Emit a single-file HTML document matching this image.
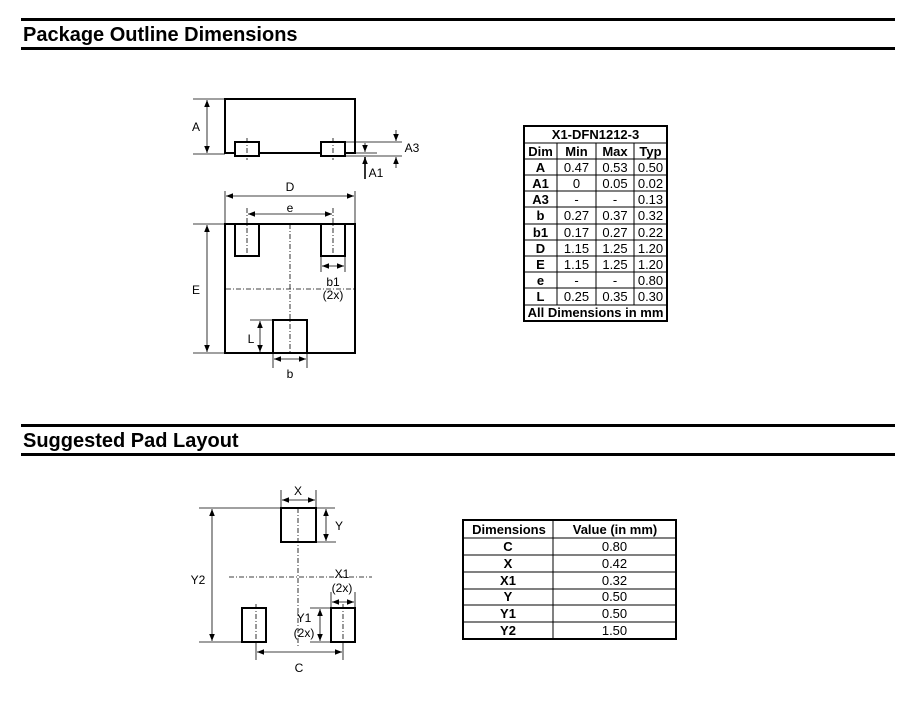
<!DOCTYPE html>
<html><head><meta charset="utf-8"><style>
html,body{margin:0;padding:0;background:#fff;}
svg{display:block;font-family:"Liberation Sans",Arial,sans-serif;}
</style></head><body>
<svg width="922" height="703" viewBox="0 0 922 703" xmlns="http://www.w3.org/2000/svg">
<defs>
<marker id="ar" viewBox="0 0 10 10" refX="10" refY="5" markerWidth="7" markerHeight="7" orient="auto-start-reverse" markerUnits="userSpaceOnUse"><path d="M0,1 L10,5 L0,9 z" fill="#000"/></marker>
</defs>
<rect x="21" y="18" width="874" height="3" fill="#000"/>
<rect x="21" y="47" width="874" height="3" fill="#000"/>
<text x="23" y="41" font-size="20" font-weight="bold">Package Outline Dimensions</text>
<rect x="21" y="424" width="874" height="3" fill="#000"/>
<rect x="21" y="453" width="874" height="3" fill="#000"/>
<text x="23" y="447" font-size="20" font-weight="bold">Suggested Pad Layout</text>

<g stroke="#000" fill="none">
<rect x="225" y="99" width="130" height="54" stroke-width="2"/>
<rect x="235" y="142" width="24" height="14" fill="#fff" stroke-width="2"/>
<rect x="321" y="142" width="24" height="14" fill="#fff" stroke-width="2"/>
<g stroke-width="0.8" stroke-dasharray="5,2,1,2"><line x1="247" y1="138" x2="247" y2="160"/><line x1="333" y1="138" x2="333" y2="160"/></g>
<g stroke-width="0.8">
<line x1="193" y1="99" x2="225" y2="99"/><line x1="193" y1="154" x2="225" y2="154"/>
<line x1="207" y1="100" x2="207" y2="153" marker-start="url(#ar)" marker-end="url(#ar)"/>
<line x1="345" y1="142" x2="402" y2="142"/><line x1="355" y1="153" x2="377" y2="153"/><line x1="345" y1="156" x2="402" y2="156"/>
<line x1="396" y1="130" x2="396" y2="141" marker-end="url(#ar)"/>
<line x1="396" y1="168" x2="396" y2="157" marker-end="url(#ar)"/>
<line x1="365" y1="143" x2="365" y2="152" marker-end="url(#ar)"/>
</g>
<line x1="365" y1="179" x2="365" y2="157" stroke-width="1.6" marker-end="url(#ar)"/>
<rect x="225" y="224" width="130" height="129" stroke-width="2"/>
<rect x="235" y="224" width="24" height="32" stroke-width="2"/>
<rect x="321" y="224" width="24" height="32" stroke-width="2"/>
<rect x="273" y="320" width="34" height="33" stroke-width="2"/>
<g stroke-width="0.8" stroke-dasharray="5,2,1,2">
<line x1="247" y1="208" x2="247" y2="258"/><line x1="333" y1="208" x2="333" y2="258"/>
<line x1="290" y1="224" x2="290" y2="353"/><line x1="226" y1="289" x2="355" y2="289"/>
</g>
<g stroke-width="0.8">
<line x1="225" y1="191" x2="225" y2="224"/><line x1="355" y1="191" x2="355" y2="224"/>
<line x1="226" y1="196" x2="354" y2="196" marker-start="url(#ar)" marker-end="url(#ar)"/>
<line x1="248" y1="214" x2="332" y2="214" marker-start="url(#ar)" marker-end="url(#ar)"/>
<line x1="193" y1="224" x2="225" y2="224"/><line x1="193" y1="353" x2="225" y2="353"/>
<line x1="207" y1="225" x2="207" y2="352" marker-start="url(#ar)" marker-end="url(#ar)"/>
<line x1="321" y1="256" x2="321" y2="272"/><line x1="345" y1="256" x2="345" y2="272"/>
<line x1="322" y1="266" x2="344" y2="266" marker-start="url(#ar)" marker-end="url(#ar)"/>
<line x1="250" y1="320" x2="273" y2="320"/>
<line x1="260" y1="321" x2="260" y2="352" marker-start="url(#ar)" marker-end="url(#ar)"/>
<line x1="273" y1="353" x2="273" y2="368"/><line x1="307" y1="353" x2="307" y2="368"/>
<line x1="274" y1="359" x2="306" y2="359" marker-start="url(#ar)" marker-end="url(#ar)"/>
</g>
<rect x="281" y="508" width="35" height="34" stroke-width="2"/>
<rect x="242" y="608" width="24" height="34" stroke-width="2"/>
<rect x="331" y="608" width="24" height="34" stroke-width="2"/>
<g stroke-width="0.8" stroke-dasharray="5,2,1,2">
<line x1="298" y1="508" x2="298" y2="648"/><line x1="229" y1="577" x2="372" y2="577"/>
<line x1="256" y1="604" x2="256" y2="642"/><line x1="343" y1="604" x2="343" y2="642"/>
</g>
<g stroke-width="0.8">
<line x1="199" y1="508" x2="335" y2="508"/><line x1="199" y1="642" x2="242" y2="642"/>
<line x1="212" y1="509" x2="212" y2="641" marker-start="url(#ar)" marker-end="url(#ar)"/>
<line x1="281" y1="490" x2="281" y2="508"/><line x1="316" y1="490" x2="316" y2="508"/>
<line x1="282" y1="500" x2="315" y2="500" marker-start="url(#ar)" marker-end="url(#ar)"/>
<line x1="316" y1="542" x2="336" y2="542"/>
<line x1="326" y1="509" x2="326" y2="541" marker-start="url(#ar)" marker-end="url(#ar)"/>
<line x1="331" y1="592" x2="331" y2="608"/><line x1="355" y1="592" x2="355" y2="608"/>
<line x1="332" y1="602" x2="354" y2="602" marker-start="url(#ar)" marker-end="url(#ar)"/>
<line x1="310" y1="608" x2="331" y2="608"/><line x1="310" y1="642" x2="331" y2="642"/>
<line x1="320" y1="609" x2="320" y2="641" marker-start="url(#ar)" marker-end="url(#ar)"/>
<line x1="256" y1="642" x2="256" y2="660"/><line x1="343" y1="642" x2="343" y2="660"/>
<line x1="257" y1="652" x2="342" y2="652" marker-start="url(#ar)" marker-end="url(#ar)"/>
</g>
</g>
<g font-size="12" text-anchor="middle" fill="#000">
<text x="196" y="131">A</text><text x="412" y="152">A3</text><text x="376" y="177">A1</text>
<text x="290" y="191">D</text><text x="290" y="212">e</text><text x="196" y="294">E</text>
<text x="333" y="286">b1</text><text x="333" y="299">(2x)</text>
<text x="251" y="343">L</text><text x="290" y="378">b</text>
<text x="198" y="584">Y2</text><text x="298" y="495">X</text><text x="339" y="530">Y</text>
<text x="342" y="578">X1</text><text x="342" y="592">(2x)</text>
<text x="304" y="622">Y1</text><text x="304" y="637">(2x)</text><text x="299" y="672">C</text>
</g>

<g font-size="13" text-anchor="middle">
<rect x="524" y="126" width="143" height="195" fill="none" stroke="#000" stroke-width="2"/>
<g stroke="#000" stroke-width="1">
<line x1="524" y1="143" x2="667" y2="143"/>
<line x1="524" y1="159" x2="667" y2="159"/><line x1="524" y1="175" x2="667" y2="175"/>
<line x1="524" y1="191" x2="667" y2="191"/><line x1="524" y1="207" x2="667" y2="207"/>
<line x1="524" y1="224" x2="667" y2="224"/><line x1="524" y1="240" x2="667" y2="240"/>
<line x1="524" y1="256" x2="667" y2="256"/><line x1="524" y1="272" x2="667" y2="272"/>
<line x1="524" y1="288" x2="667" y2="288"/><line x1="524" y1="305" x2="667" y2="305"/>
<line x1="557" y1="143" x2="557" y2="305"/><line x1="596" y1="143" x2="596" y2="305"/><line x1="634" y1="143" x2="634" y2="305"/>
</g>
<g font-weight="bold">
<text x="595.5" y="139">X1-DFN1212-3</text>
<text x="540.5" y="156">Dim</text><text x="576.5" y="156">Min</text><text x="615" y="156">Max</text><text x="650.5" y="156">Typ</text>
<text x="540.5" y="172">A</text><text x="540.5" y="188">A1</text><text x="540.5" y="204">A3</text><text x="540.5" y="220">b</text><text x="540.5" y="237">b1</text><text x="540.5" y="253">D</text><text x="540.5" y="269">E</text><text x="540.5" y="285">e</text><text x="540.5" y="301">L</text>
<text x="595.5" y="317">All Dimensions in mm</text>
</g>
<text x="576.5" y="172">0.47</text><text x="615" y="172">0.53</text><text x="650.5" y="172">0.50</text>
<text x="576.5" y="188">0</text><text x="615" y="188">0.05</text><text x="650.5" y="188">0.02</text>
<text x="576.5" y="204">-</text><text x="615" y="204">-</text><text x="650.5" y="204">0.13</text>
<text x="576.5" y="220">0.27</text><text x="615" y="220">0.37</text><text x="650.5" y="220">0.32</text>
<text x="576.5" y="237">0.17</text><text x="615" y="237">0.27</text><text x="650.5" y="237">0.22</text>
<text x="576.5" y="253">1.15</text><text x="615" y="253">1.25</text><text x="650.5" y="253">1.20</text>
<text x="576.5" y="269">1.15</text><text x="615" y="269">1.25</text><text x="650.5" y="269">1.20</text>
<text x="576.5" y="285">-</text><text x="615" y="285">-</text><text x="650.5" y="285">0.80</text>
<text x="576.5" y="301">0.25</text><text x="615" y="301">0.35</text><text x="650.5" y="301">0.30</text>
</g>

<g font-size="13" text-anchor="middle">
<rect x="463" y="520" width="213" height="119" fill="none" stroke="#000" stroke-width="2"/>
<g stroke="#000" stroke-width="1">
<line x1="463" y1="538" x2="676" y2="538"/><line x1="463" y1="555" x2="676" y2="555"/>
<line x1="463" y1="572" x2="676" y2="572"/><line x1="463" y1="589" x2="676" y2="589"/>
<line x1="463" y1="605" x2="676" y2="605"/><line x1="463" y1="622" x2="676" y2="622"/>
<line x1="553" y1="520" x2="553" y2="639"/>
</g>
<g font-weight="bold">
<text x="509" y="534">Dimensions</text><text x="615" y="534">Value (in mm)</text>
<text x="508" y="551">C</text><text x="508" y="568">X</text><text x="508" y="585">X1</text><text x="508" y="601">Y</text><text x="508" y="618">Y1</text><text x="508" y="635">Y2</text>
</g>
<text x="614.5" y="551">0.80</text><text x="614.5" y="568">0.42</text><text x="614.5" y="585">0.32</text><text x="614.5" y="601">0.50</text><text x="614.5" y="618">0.50</text><text x="614.5" y="635">1.50</text>
</g>
</svg>
</body></html>
